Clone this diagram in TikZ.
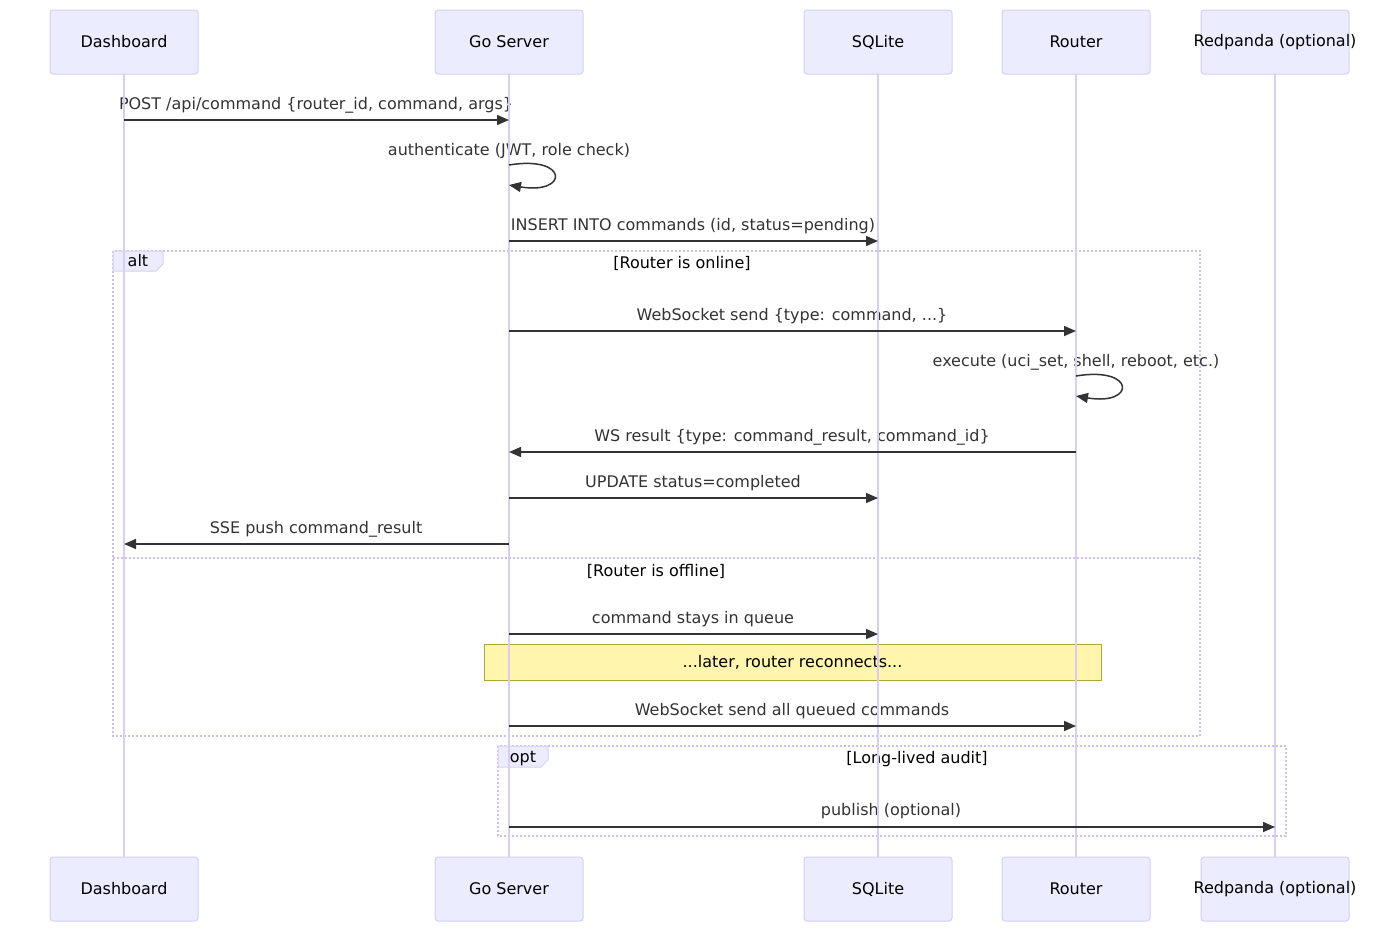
\documentclass[tikz,border=0pt]{standalone}
\usepackage{fontspec}
\setmainfont{DejaVu Sans}
\usetikzlibrary{positioning, arrows.meta}

\definecolor{actfill}{HTML}{ECECFF}
\definecolor{actline}{HTML}{D8CEF3}
\definecolor{frameline}{HTML}{CABEF0}
\definecolor{msgline}{HTML}{333333}
\definecolor{notefill}{HTML}{FFF5AD}
\definecolor{noteline}{HTML}{AAAA33}

\tikzset{
	actor/.style={draw=actline, fill=actfill, rounded corners=1.5pt, line width=0.5pt, outer sep=0pt,
		minimum width=74pt, minimum height=32pt, inner sep=0pt, font=\fontsize{8}{10}\selectfont},
	life/.style={draw=actline, line width=0.75pt},
	msg/.style={draw=msgline, line width=0.75pt, -{Triangle[length=6pt,width=5pt]}},
	lbl/.style={text=msgline, inner sep=0pt, anchor=base, font=\fontsize{8}{10}\selectfont},
	frame/.style={draw=frameline, line width=0.6pt, dash pattern=on 1pt off 1pt},
	tabbox/.style={draw=actline, fill=actfill, line width=0.5pt},
	tablbl/.style={inner sep=0pt, anchor=base, font=\fontsize{8}{10}\selectfont},
	notebox/.style={draw=noteline, fill=notefill, line width=0.5pt, minimum width=308.5pt,
		minimum height=18pt, inner sep=0pt, font=\fontsize{8}{10}\selectfont}
}
\newcommand{\actname}[1]{\makebox[0pt]{#1}}

\begin{document}
\begin{tikzpicture}[x=0.5pt, y=-0.5pt]
	\useasboundingbox (0,0) rectangle (1400,932);

	% participants
	\node[actor]                      (dash)   at (124,42) {Dashboard};
	\node[actor, right=118.5pt of dash] (go)     {Go Server};
	\node[actor, right=110.5pt of go]   (sql)    {SQLite};
	\node[actor, right=25pt of sql]     (router) {Router};
	\node[actor, right=25.5pt of router] (red)   {\actname{Redpanda (optional)}};

	\node[actor, below=391.5pt of dash]   (dashB)   {Dashboard};
	\node[actor, below=391.5pt of go]     (goB)     {Go Server};
	\node[actor, below=391.5pt of sql]    (sqlB)    {SQLite};
	\node[actor, below=391.5pt of router] (routerB) {Router};
	\node[actor, below=391.5pt of red]    (redB)    {\actname{Redpanda (optional)}};

	% alt frame
	\draw[frame] (113,251) rectangle (1200,736);
	\draw[frame] (113,558) -- (1200,558);
	\draw[tabbox] (113,251) -- (163,251) -- (163,264) -- (156,271) -- (113,271) -- cycle;
	\node[tablbl] (alt) at (138,266) {alt};
	\node[tablbl] (online)  at (682,268) {[Router is online]};
	\node[tablbl] (offline) at (656,576) {[Router is offline]};

	% opt frame
	\draw[frame] (498,746) rectangle (1286,836);
	\draw[tabbox] (498,746) -- (548,746) -- (548,760) -- (541,767) -- (498,767) -- cycle;
	\node[tablbl] (opt) at (523,762) {opt};
	\node[tablbl] (audit) at (917,763) {[Long-lived audit]};

	\node[notebox] (later) at (792.5,662) {...later, router reconnects...};

	% labels
	\node[lbl] at (316,109) {POST /api/command \{router\_id, command, args\}};
	\node[lbl] at (509,155) {authenticate (JWT, role check)};
	\node[lbl] at (693,230) {INSERT INTO commands (id, status=pending)};
	\node[lbl] at (792,320) {WebSocket send \{type: command, ...\}};
	\node[lbl] at (1076,366) {execute (uci\_set, shell, reboot, etc.)};
	\node[lbl] at (792,441) {WS result \{type: command\_result, command\_id\}};
	\node[lbl] at (693,487) {UPDATE status=completed};
	\node[lbl] at (316,533) {SSE push command\_result};
	\node[lbl] at (693,623) {command stays in queue};
	\node[lbl] at (792,715) {WebSocket send all queued commands};
	\node[lbl] at (891,815) {publish (optional)};

	% lifelines
	\foreach \a in {dash, go, sql, router, red}
		\draw[life] (\a.south) -- (\a B.north);

	% messages
	\draw[msg] (dash |- 0,120) -- (go |- 0,120);
	\draw[msg] (go |- 0,165) .. controls +(60,-10) and +(60,10) .. (go |- 0,185);
	\draw[msg] (go |- 0,241) -- (sql |- 0,241);
	\draw[msg] (go |- 0,331) -- (router |- 0,331);
	\draw[msg] (router |- 0,376) .. controls +(60,-10) and +(60,10) .. (router |- 0,396);
	\draw[msg] (router |- 0,452) -- (go |- 0,452);
	\draw[msg] (go |- 0,498) -- (sql |- 0,498);
	\draw[msg] (go |- 0,544) -- (dash |- 0,544);
	\draw[msg] (go |- 0,634) -- (sql |- 0,634);
	\draw[msg] (go |- 0,726) -- (router |- 0,726);
	\draw[msg] (go |- 0,827) -- (red |- 0,827);
\end{tikzpicture}
\end{document}
